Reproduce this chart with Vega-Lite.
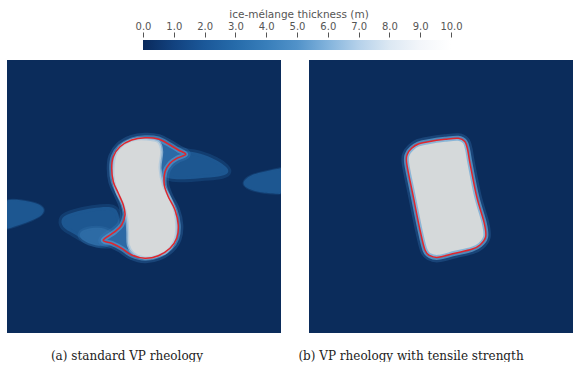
{
  "$schema": "https://vega.github.io/schema/vega-lite/v6.json",
  "padding": {"left": 7, "top": 9, "right": 0, "bottom": 0},
  "background": "white",
  "config": {"view": {"stroke": null}},
  "spacing": 10,
  "vconcat": [
    {
      "width": 566,
      "height": 10,
      "data": {"values": [{"lo": 0, "hi": 10}]},
      "mark": {
        "type": "rect",
        "fill": {
          "gradient": "linear", "x1": 0, "y1": 0, "x2": 1, "y2": 0,
          "stops": [
            {"offset": 0, "color": "#0a2a5c"},
            {"offset": 0.1, "color": "#12427f"},
            {"offset": 0.2, "color": "#1b5899"},
            {"offset": 0.3, "color": "#266baa"},
            {"offset": 0.4, "color": "#387eba"},
            {"offset": 0.5, "color": "#5192c9"},
            {"offset": 0.6, "color": "#82b3dc"},
            {"offset": 0.7, "color": "#b5d1ea"},
            {"offset": 0.8, "color": "#dce8f3"},
            {"offset": 0.9, "color": "#f3f6fa"},
            {"offset": 1, "color": "#ffffff"}
          ]
        }
      },
      "encoding": {
        "x": {
          "field": "lo", "type": "quantitative",
          "scale": {"domain": [-4.4156, 13.961], "nice": false, "zero": false},
          "axis": {
            "orient": "top", "values": [0,1,2,3,4,5,6,7,8,9,10], "format": ".1f",
            "domain": false, "grid": false, "ticks": true, "tickSize": 5, "tickColor": "#555", "tickWidth": 1,
            "offset": 3, "labelPadding": 1, "labelFont": "DejaVu Sans", "labelFontSize": 10, "labelColor": "#555",
            "labelFlush": false,
            "title": "ice-mélange thickness (m)", "titleFont": "DejaVu Sans", "titleFontSize": 10.5,
            "titleFontWeight": "normal", "titleColor": "#555", "titlePadding": 2, "titleX": 291.5
          }
        },
        "x2": {"field": "hi"}
      }
    },
    {
      "bounds": "flush",
      "spacing": 28,
      "hconcat": [
        {
          "width": 274,
          "height": 273,
          "view": {"fill": "#0b2c5b", "stroke": null},
          "title": {"text": "(a) standard VP rheology", "orient": "bottom", "font": "DejaVu Serif", "fontSize": 12, "fontWeight": "normal", "color": "#222", "offset": 18, "dx": -17},
          "data": {"values": [
            {"shape": "outline", "i": 1, "x": 138, "y": 77.7},
            {"shape": "outline", "i": 2, "x": 151.3, "y": 79},
            {"shape": "outline", "i": 3, "x": 163, "y": 85},
            {"shape": "outline", "i": 4, "x": 171.3, "y": 90},
            {"shape": "outline", "i": 5, "x": 178.7, "y": 94.3},
            {"shape": "outline", "i": 6, "x": 169.7, "y": 98.3},
            {"shape": "outline", "i": 7, "x": 163, "y": 103.3},
            {"shape": "outline", "i": 8, "x": 158, "y": 111.7},
            {"shape": "outline", "i": 9, "x": 157.3, "y": 125},
            {"shape": "outline", "i": 10, "x": 161.3, "y": 136.7},
            {"shape": "outline", "i": 11, "x": 168, "y": 150},
            {"shape": "outline", "i": 12, "x": 171.3, "y": 165},
            {"shape": "outline", "i": 13, "x": 169.7, "y": 178.3},
            {"shape": "outline", "i": 14, "x": 163, "y": 188.3},
            {"shape": "outline", "i": 15, "x": 151.3, "y": 195.7},
            {"shape": "outline", "i": 16, "x": 138, "y": 198.3},
            {"shape": "outline", "i": 17, "x": 124.7, "y": 195},
            {"shape": "outline", "i": 18, "x": 114.7, "y": 188.3},
            {"shape": "outline", "i": 19, "x": 104.7, "y": 183.3},
            {"shape": "outline", "i": 20, "x": 96.3, "y": 180},
            {"shape": "outline", "i": 21, "x": 108, "y": 171.7},
            {"shape": "outline", "i": 22, "x": 114.7, "y": 165},
            {"shape": "outline", "i": 23, "x": 118, "y": 155},
            {"shape": "outline", "i": 24, "x": 116.3, "y": 145},
            {"shape": "outline", "i": 25, "x": 111.3, "y": 133.3},
            {"shape": "outline", "i": 26, "x": 106.3, "y": 121.7},
            {"shape": "outline", "i": 27, "x": 104.7, "y": 108.3},
            {"shape": "outline", "i": 28, "x": 106.3, "y": 96.7},
            {"shape": "outline", "i": 29, "x": 113, "y": 86.7},
            {"shape": "outline", "i": 30, "x": 124.7, "y": 80},
            {"shape": "core", "i": 1, "x": 138, "y": 79},
            {"shape": "core", "i": 2, "x": 151.3, "y": 81.7},
            {"shape": "core", "i": 3, "x": 154.7, "y": 91.7},
            {"shape": "core", "i": 4, "x": 153, "y": 108.3},
            {"shape": "core", "i": 5, "x": 156.3, "y": 125},
            {"shape": "core", "i": 6, "x": 163, "y": 138.3},
            {"shape": "core", "i": 7, "x": 168, "y": 151.7},
            {"shape": "core", "i": 8, "x": 169.7, "y": 168.3},
            {"shape": "core", "i": 9, "x": 167.3, "y": 181.7},
            {"shape": "core", "i": 10, "x": 159.7, "y": 191.7},
            {"shape": "core", "i": 11, "x": 148, "y": 196.7},
            {"shape": "core", "i": 12, "x": 136.3, "y": 197.7},
            {"shape": "core", "i": 13, "x": 126.3, "y": 193.3},
            {"shape": "core", "i": 14, "x": 121.3, "y": 185},
            {"shape": "core", "i": 15, "x": 120.7, "y": 171.7},
            {"shape": "core", "i": 16, "x": 119.7, "y": 158.3},
            {"shape": "core", "i": 17, "x": 116.3, "y": 145},
            {"shape": "core", "i": 18, "x": 109.7, "y": 131.7},
            {"shape": "core", "i": 19, "x": 106.3, "y": 118.3},
            {"shape": "core", "i": 20, "x": 106.3, "y": 105},
            {"shape": "core", "i": 21, "x": 108.7, "y": 93.3},
            {"shape": "core", "i": 22, "x": 116.3, "y": 84.3},
            {"shape": "core", "i": 23, "x": 126.3, "y": 79.7},
            {"shape": "A", "i": 1, "x": 150, "y": 88},
            {"shape": "A", "i": 2, "x": 165, "y": 89},
            {"shape": "A", "i": 3, "x": 178, "y": 91},
            {"shape": "A", "i": 4, "x": 193, "y": 93},
            {"shape": "A", "i": 5, "x": 210, "y": 100},
            {"shape": "A", "i": 6, "x": 220, "y": 107},
            {"shape": "A", "i": 7, "x": 223, "y": 113},
            {"shape": "A", "i": 8, "x": 213, "y": 117},
            {"shape": "A", "i": 9, "x": 193, "y": 118},
            {"shape": "A", "i": 10, "x": 173, "y": 120},
            {"shape": "A", "i": 11, "x": 150, "y": 118},
            {"shape": "B", "i": 1, "x": 235, "y": 122},
            {"shape": "B", "i": 2, "x": 243, "y": 115},
            {"shape": "B", "i": 3, "x": 256, "y": 112},
            {"shape": "B", "i": 4, "x": 270, "y": 109},
            {"shape": "B", "i": 5, "x": 274, "y": 108},
            {"shape": "B", "i": 6, "x": 274, "y": 108},
            {"shape": "B", "i": 7, "x": 274, "y": 134},
            {"shape": "B", "i": 8, "x": 274, "y": 134},
            {"shape": "B", "i": 9, "x": 253, "y": 133},
            {"shape": "B", "i": 10, "x": 238, "y": 128},
            {"shape": "C", "i": 1, "x": 0, "y": 140},
            {"shape": "C", "i": 2, "x": 0, "y": 140},
            {"shape": "C", "i": 3, "x": 13, "y": 139.5},
            {"shape": "C", "i": 4, "x": 29.7, "y": 143},
            {"shape": "C", "i": 5, "x": 38, "y": 148},
            {"shape": "C", "i": 6, "x": 36, "y": 155},
            {"shape": "C", "i": 7, "x": 26, "y": 160},
            {"shape": "C", "i": 8, "x": 13, "y": 165},
            {"shape": "C", "i": 9, "x": 0, "y": 169},
            {"shape": "C", "i": 10, "x": 0, "y": 169},
            {"shape": "D", "i": 1, "x": 53, "y": 157},
            {"shape": "D", "i": 2, "x": 66, "y": 152},
            {"shape": "D", "i": 3, "x": 86, "y": 148},
            {"shape": "D", "i": 4, "x": 103, "y": 146},
            {"shape": "D", "i": 5, "x": 113, "y": 150},
            {"shape": "D", "i": 6, "x": 113, "y": 180},
            {"shape": "D", "i": 7, "x": 103, "y": 187},
            {"shape": "D", "i": 8, "x": 90, "y": 185},
            {"shape": "D", "i": 9, "x": 76, "y": 180},
            {"shape": "D", "i": 10, "x": 66, "y": 173},
            {"shape": "D", "i": 11, "x": 55, "y": 168},
            {"shape": "E", "i": 1, "x": 70, "y": 172},
            {"shape": "E", "i": 2, "x": 85, "y": 167},
            {"shape": "E", "i": 3, "x": 100, "y": 168},
            {"shape": "E", "i": 4, "x": 108, "y": 176},
            {"shape": "E", "i": 5, "x": 104, "y": 186},
            {"shape": "E", "i": 6, "x": 88, "y": 186},
            {"shape": "E", "i": 7, "x": 75, "y": 181}
          ]},
          "encoding": {
            "x": {"field": "x", "type": "quantitative", "scale": {"domain": [0, 274], "nice": false, "zero": false}, "axis": null},
            "y": {"field": "y", "type": "quantitative", "scale": {"domain": [0, 273], "nice": false, "zero": false, "reverse": true}, "axis": null},
            "order": {"field": "i"},
            "detail": {"field": "shape"}
          },
          "layer": [
            {
              "transform": [{"filter": {"field": "shape", "oneOf": ["A", "D"]}}],
              "mark": {"type": "line", "interpolate": "basis-closed", "clip": true, "fill": "#1d5791", "stroke": "#1d5791", "strokeWidth": 6, "strokeOpacity": 0.4}
            },
            {
              "transform": [{"filter": {"field": "shape", "oneOf": ["B", "C"]}}],
              "mark": {"type": "line", "interpolate": "basis-closed", "clip": true, "fill": "#1d5791", "stroke": "#1d5791", "strokeWidth": 2, "strokeOpacity": 0.4}
            },
            {
              "transform": [{"filter": {"field": "shape", "equal": "E"}}],
              "mark": {"type": "line", "interpolate": "basis-closed", "clip": true, "fill": "#2d6ba5", "stroke": "#2d6ba5", "strokeWidth": 4, "strokeOpacity": 0.4}
            },
            {
              "transform": [{"filter": {"field": "shape", "equal": "outline"}}],
              "mark": {"type": "line", "interpolate": "cardinal-closed", "clip": true, "stroke": "#3a7fbd", "strokeWidth": 10, "strokeOpacity": 0.3, "strokeJoin": "round"}
            },
            {
              "transform": [{"filter": {"field": "shape", "equal": "outline"}}],
              "mark": {"type": "line", "interpolate": "cardinal-closed", "clip": true, "fill": "#2c69a5", "stroke": "#5e9ccf", "strokeWidth": 5, "strokeOpacity": 0.6, "strokeJoin": "round"}
            },
            {
              "transform": [{"filter": {"field": "shape", "equal": "core"}}],
              "mark": {"type": "line", "interpolate": "cardinal-closed", "clip": true, "fill": "#d6d9da", "stroke": "#a9c6dd", "strokeWidth": 3, "strokeOpacity": 0.7}
            },
            {
              "transform": [{"filter": {"field": "shape", "equal": "outline"}}],
              "mark": {"type": "line", "interpolate": "cardinal-closed", "clip": true, "stroke": "#e0262c", "strokeWidth": 1.5}
            }
          ]
        },
        {
          "width": 264,
          "height": 273,
          "view": {"fill": "#0b2c5b", "stroke": null},
          "title": {"text": "(b) VP rheology with tensile strength", "orient": "bottom", "font": "DejaVu Serif", "fontSize": 12, "fontWeight": "normal", "color": "#222", "offset": 18, "dx": -30},
          "data": {"values": [
            {"shape": "outline", "i": 1, "x": 102.7, "y": 88.3},
            {"shape": "outline", "i": 2, "x": 109.3, "y": 84},
            {"shape": "outline", "i": 3, "x": 119.3, "y": 81.7},
            {"shape": "outline", "i": 4, "x": 136, "y": 79.3},
            {"shape": "outline", "i": 5, "x": 149.3, "y": 78.3},
            {"shape": "outline", "i": 6, "x": 156, "y": 81.7},
            {"shape": "outline", "i": 7, "x": 158.7, "y": 90},
            {"shape": "outline", "i": 8, "x": 161, "y": 103.3},
            {"shape": "outline", "i": 9, "x": 167.7, "y": 136.7},
            {"shape": "outline", "i": 10, "x": 175.3, "y": 163.3},
            {"shape": "outline", "i": 11, "x": 176.7, "y": 176.7},
            {"shape": "outline", "i": 12, "x": 171, "y": 185},
            {"shape": "outline", "i": 13, "x": 162.7, "y": 189.3},
            {"shape": "outline", "i": 14, "x": 146, "y": 193.3},
            {"shape": "outline", "i": 15, "x": 129.3, "y": 197.3},
            {"shape": "outline", "i": 16, "x": 121, "y": 195.7},
            {"shape": "outline", "i": 17, "x": 116, "y": 190},
            {"shape": "outline", "i": 18, "x": 111, "y": 170},
            {"shape": "outline", "i": 19, "x": 104.3, "y": 136.7},
            {"shape": "outline", "i": 20, "x": 97.7, "y": 103.3},
            {"shape": "outline", "i": 21, "x": 98.5, "y": 94}
          ]},
          "encoding": {
            "x": {"field": "x", "type": "quantitative", "scale": {"domain": [0, 264], "nice": false, "zero": false}, "axis": null},
            "y": {"field": "y", "type": "quantitative", "scale": {"domain": [0, 273], "nice": false, "zero": false, "reverse": true}, "axis": null},
            "order": {"field": "i"}
          },
          "layer": [
            {
              "mark": {"type": "line", "interpolate": "cardinal-closed", "clip": true, "stroke": "#3a7fbd", "strokeWidth": 10, "strokeOpacity": 0.3, "strokeJoin": "round"}
            },
            {
              "mark": {"type": "line", "interpolate": "cardinal-closed", "clip": true, "fill": "#d5d9da", "stroke": "#6aa6d6", "strokeWidth": 5, "strokeOpacity": 0.7, "strokeJoin": "round"}
            },
            {
              "mark": {"type": "line", "interpolate": "cardinal-closed", "clip": true, "stroke": "#e0262c", "strokeWidth": 1.5}
            }
          ]
        }
      ]
    }
  ]
}
